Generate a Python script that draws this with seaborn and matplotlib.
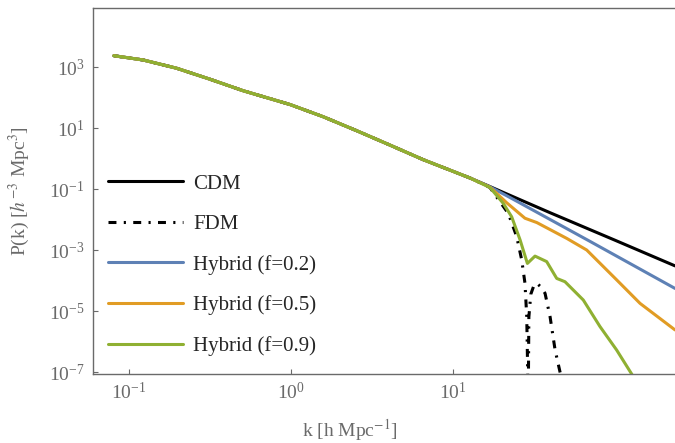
import matplotlib
matplotlib.use("Agg")
import matplotlib.pyplot as plt
import seaborn as sns
import numpy as np

# ---- data (k in h/Mpc, P in (Mpc/h)^3) ----
k_shared = [0.0807, 0.1225, 0.1968, 0.3162, 0.5082, 0.986, 1.581, 2.547, 4.083, 6.561, 10.0, 12.74]
P_shared = [2344, 1698, 912, 398, 166, 58.9, 23.4, 8.13, 2.75, 0.912, 0.380, 0.229]

k_cdm = [16.90, 21.43, 39.81, 100.0, 234.4]
P_cdm = [0.120, 0.0692, 0.0166, 0.00209, 3.02e-4]

k_fdm = [16.90, 21.93, 24.72, 26.55, 27.80, 28.51, 28.91, 29.04, 29.38, 30.20,
         31.62, 32.89, 34.67, 36.98, 39.72, 42.66, 45.71, 48.98]
P_fdm = [0.112, 0.0158, 0.00275, 4.68e-4, 8.13e-5, 6.46e-6, 8.5e-8, 1e-9, 6.31e-6, 3.55e-5,
         7.08e-5, 8.13e-5, 6.31e-5, 3.80e-5, 6.46e-6, 5.25e-7, 1.02e-7, 2.5e-8]

k_f02 = [16.90, 21.43, 28.51, 70.15, 234.4]
P_f02 = [0.118, 0.0603, 0.0263, 0.00191, 5.50e-5]

k_f05 = [16.90, 21.43, 27.80, 32.89, 50.35, 66.83, 102.3, 142.6, 234.4]
P_f05 = [0.115, 0.0355, 0.0110, 0.00794, 0.00240, 1.0e-3, 1.05e-4, 1.78e-5, 2.40e-6]

k_f09 = [16.90, 20.42, 23.01, 25.94, 28.77, 32.06, 37.84, 43.65, 49.09, 63.68,
         80.72, 102.3, 126.8, 141.3]
P_f09 = [0.112, 0.0339, 0.0123, 0.00214, 3.63e-4, 6.31e-4, 4.17e-4, 1.17e-4, 9.12e-5, 2.29e-5,
         3.09e-6, 5.25e-7, 8.5e-8, 3.16e-8]

labels = ["CDM", "FDM", "Hybrid (f=0.2)", "Hybrid (f=0.5)", "Hybrid (f=0.9)"]
colors = ["#000000", "#000000", "#5E81B5", "#E19C24", "#8FB032"]
x_ticks = [0.1, 1, 10]
y_ticks = [1e-7, 1e-5, 1e-3, 1e-1, 1e1, 1e3]

# ---- styling ----
sns.set_theme(style="ticks")
plt.rcParams["font.family"] = ["Liberation Serif", "DejaVu Serif"]
plt.rcParams["mathtext.fontset"] = "stix"
gray = "#6a6a6a"

fig = plt.figure(figsize=(6.75, 4.43), dpi=100)
ax = fig.add_axes([93 / 675, 1 - 374 / 443, (675 - 93) / 675, (374 - 8) / 443])
ax.set_xscale("log")
ax.set_yscale("log")

series = [(k_cdm, P_cdm, "-"),
          (k_fdm, P_fdm, (0, (2.6, 2.4, 0.7, 2.4))),
          (k_f02, P_f02, "-"),
          (k_f05, P_f05, "-"),
          (k_f09, P_f09, "-")]
for (kk, pp, ls), lab, col in zip(series, labels, colors):
    sns.lineplot(x=k_shared + kk, y=P_shared + pp, ax=ax, color=col, lw=2.2,
                 linestyle=ls, label=lab, estimator=None, sort=False)

ax.set_xlim(0.0600, 234.4)
ax.set_ylim(8.6e-8, 8.6e4)
ax.set_xticks(x_ticks)
ax.set_yticks(y_ticks)
ax.minorticks_off()
ax.tick_params(direction="in", length=3.5, width=0.8, color=gray,
               labelcolor=gray, labelsize=14)
ax.tick_params(axis="x", pad=6)
ax.tick_params(axis="y", pad=6)
for s in ["left", "bottom", "top"]:
    ax.spines[s].set_color(gray)
    ax.spines[s].set_linewidth(1.0)
ax.spines["right"].set_visible(False)

ax.set_xlabel(r"k [h Mpc$^{-1}$]", color=gray, fontsize=14, labelpad=8)
ax.xaxis.set_label_coords((350 - 93) / 582, -0.117)
ax.set_ylabel(r"P(k) [$h^{-3}$ Mpc$^{3}$]", color=gray, fontsize=14, labelpad=12)

h, l = ax.get_legend_handles_labels()
ax.legend(h, l, loc="upper left", bbox_to_anchor=(108 / 675, 1 - 174 / 443),
          bbox_transform=fig.transFigure, frameon=False, fontsize=15,
          handlelength=3.6, handletextpad=0.5, labelspacing=1.0,
          borderpad=0, borderaxespad=0)

fig.savefig("out.png", dpi=100)
